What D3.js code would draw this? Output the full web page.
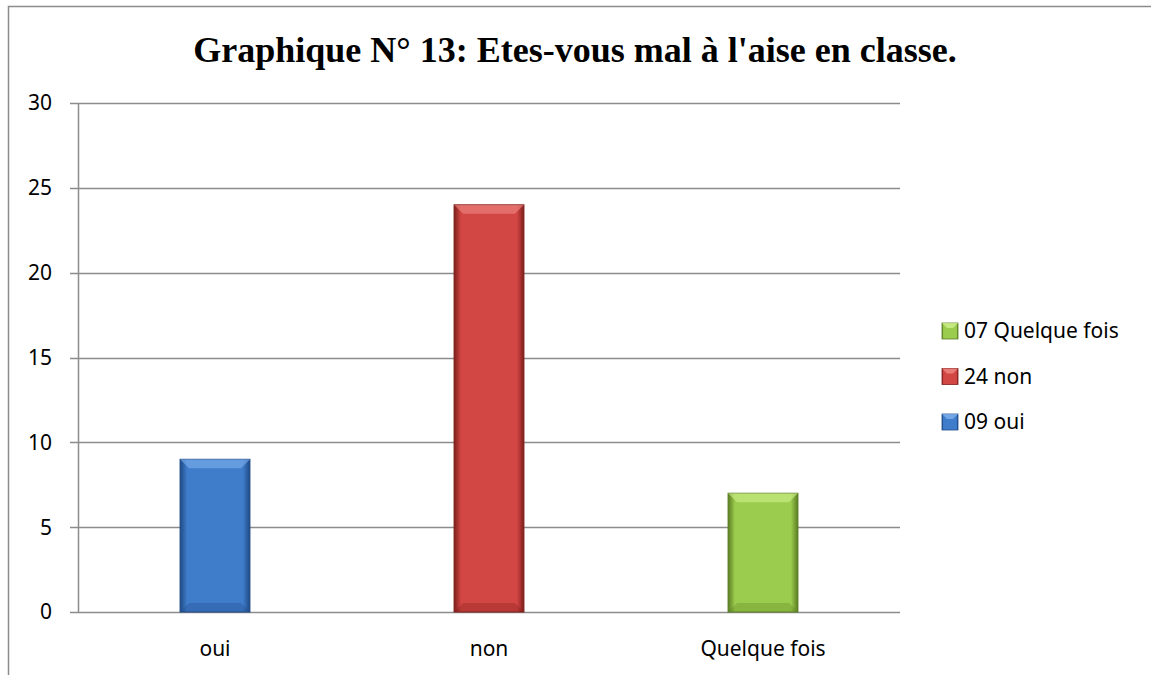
<!DOCTYPE html>
<html>
<head>
<meta charset="utf-8">
<script src="https://cdn.jsdelivr.net/npm/d3@7"></script>
<style>
  body { margin: 0; background: #fff; }
  text { font-family: "Noto Sans", "Open Sans", sans-serif; fill: #000; }
  .title { font-family: "Liberation Serif", "DejaVu Serif", serif; font-weight: bold; }
</style>
</head>
<body>
<svg id="chart" width="1151" height="675"></svg>
<script>
// chart data
const categories = ["oui", "non", "Quelque fois"];
const values = [9, 24, 7];
const legendLabels = ["09 oui", "24 non", "07 Quelque fois"];
const yTicks = [0, 5, 10, 15, 20, 25, 30];
const titleText = "Graphique N° 13: Etes-vous mal à l'aise en classe.";

const colors = [
    {base: "#3f7cca", light: "#7fb0ec", dark: "#1f4a85"},
    {base: "#d24643", light: "#f08a86", dark: "#7e1e1c"},
    {base: "#9ccc4e", light: "#cdf08c", dark: "#5a7d22"}
];

const svg = d3.select("#chart");
const margin = {left: 78, right: 251, top: 103, bottom: 63};
const width = 1151, height = 675;

// frame (only top and left edges are visible)
svg.append("path")
    .attr("d", "M8.5,675 V6.5 H1151")
    .attr("fill", "none")
    .attr("stroke", "#8c8c8c")
    .attr("stroke-width", 1.5);

svg.append("text")
    .attr("class", "title")
    .attr("x", 575)
    .attr("y", 62)
    .attr("text-anchor", "middle")
    .attr("font-size", 36)
    .text(titleText);

const x = d3.scaleBand()
    .domain(categories)
    .range([margin.left, width - margin.right])
    .paddingInner(0.745)
    .paddingOuter(0.3725);

const y = d3.scaleLinear()
    .domain([0, 30])
    .range([height - margin.bottom, margin.top]);

// gridlines
svg.append("g")
    .selectAll("line")
    .data(yTicks)
    .join("line")
    .attr("x1", margin.left - 8)
    .attr("x2", width - margin.right)
    .attr("y1", d => Math.round(y(d)) + 0.5)
    .attr("y2", d => Math.round(y(d)) + 0.5)
    .attr("stroke", "#8c8c8c")
    .attr("stroke-width", 1.5);

// y axis line
svg.append("line")
    .attr("x1", margin.left + 0.5).attr("x2", margin.left + 0.5)
    .attr("y1", y(30)).attr("y2", y(0))
    .attr("stroke", "#8c8c8c")
    .attr("stroke-width", 1.5);

svg.append("g")
    .selectAll("text")
    .data(yTicks)
    .join("text")
    .attr("x", 52)
    .attr("y", d => y(d))
    .attr("dy", "0.35em")
    .attr("text-anchor", "end")
    .attr("font-size", 21)
    .text(d => d);

// gradients for the bevelled bars
const defs = svg.append("defs");
colors.forEach((c, i) => {
    let g = defs.append("linearGradient")
        .attr("id", "side" + i)
        .attr("x1", 0).attr("x2", 1).attr("y1", 0).attr("y2", 0);
    g.append("stop").attr("offset", "0%").attr("stop-color", c.dark);
    g.append("stop").attr("offset", "10%").attr("stop-color", c.base);
    g.append("stop").attr("offset", "90%").attr("stop-color", c.base);
    g.append("stop").attr("offset", "100%").attr("stop-color", c.dark);
});

const bars = svg.append("g")
    .selectAll("g")
    .data(values)
    .join("g");

bars.append("rect")
    .attr("x", (d, i) => x(categories[i]))
    .attr("y", d => y(d))
    .attr("width", x.bandwidth())
    .attr("height", d => y(0) - y(d))
    .attr("fill", (d, i) => "url(#side" + i + ")")
    .attr("stroke", (d, i) => colors[i].dark)
    .attr("stroke-width", 1);

// top bevel highlight
bars.append("path")
    .attr("d", (d, i) => {
        let x0 = x(categories[i]), x1 = x0 + x.bandwidth(), y0 = y(d);
        return `M${x0},${y0} H${x1} L${x1 - 9},${y0 + 9} H${x0 + 9} Z`;
    })
    .attr("fill", (d, i) => colors[i].light)
    .attr("opacity", 0.6);

// bottom bevel shade
bars.append("path")
    .attr("d", (d, i) => {
        let x0 = x(categories[i]), x1 = x0 + x.bandwidth(), y0 = y(0);
        return `M${x0},${y0} H${x1} L${x1 - 9},${y0 - 9} H${x0 + 9} Z`;
    })
    .attr("fill", (d, i) => colors[i].dark)
    .attr("opacity", 0.3);

svg.append("g")
    .selectAll("text")
    .data(categories)
    .join("text")
    .attr("x", d => x(d) + x.bandwidth() / 2)
    .attr("y", 649)
    .attr("dy", "0.35em")
    .attr("text-anchor", "middle")
    .attr("font-size", 21)
    .text(d => d);

// legend, drawn in reverse order like the original
const legend = svg.append("g")
    .selectAll("g")
    .data(legendLabels.map((l, i) => ({label: l, i: i})).reverse())
    .join("g")
    .attr("transform", (d, k) => `translate(942,${331 + k * 45.5})`);

legend.append("rect")
    .attr("x", 0).attr("y", -8)
    .attr("width", 16).attr("height", 16)
    .attr("fill", d => "url(#side" + d.i + ")")
    .attr("stroke", d => colors[d.i].dark)
    .attr("stroke-width", 0.8);

legend.append("path")
    .attr("d", "M0,-8 H16 L11,-3 H5 Z")
    .attr("fill", d => colors[d.i].light)
    .attr("opacity", 0.8);

legend.append("text")
    .attr("x", 22)
    .attr("y", 0)
    .attr("dy", "0.35em")
    .attr("font-size", 21)
    .text(d => d.label);
</script>
</body>
</html>
